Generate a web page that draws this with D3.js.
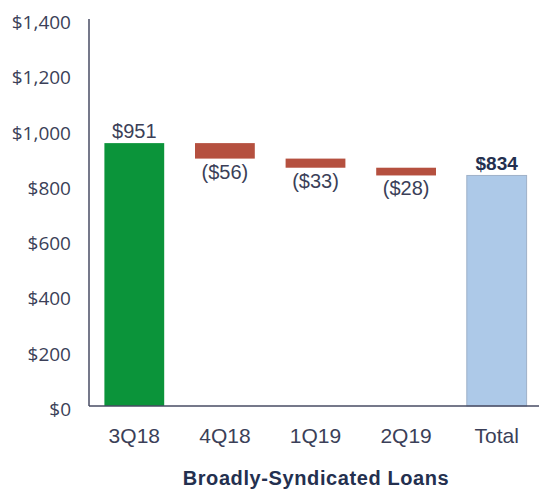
<!DOCTYPE html>
<html>
<head>
<meta charset="utf-8">
<script src="https://cdn.jsdelivr.net/npm/d3@7"></script>
<style>
  body { margin: 0; background: #fff; }
  svg text { font-family: "Liberation Sans", Arial, sans-serif; }
</style>
</head>
<body>
<svg id="chart" width="539" height="490"></svg>
<script>
    // ============ DATA =================
    var categories = ["3Q18", "4Q18", "1Q19", "2Q19", "Total"];
    var values = [951, -56, -33, -28, 834];
    var kinds = ["start", "change", "change", "change", "total"];
    var yTicks = [0, 200, 400, 600, 800, 1000, 1200, 1400];
    var axisTitle = "Broadly-Syndicated Loans";

    var colors = { start: "#0b943a", change: "#b5503f", total: "#adc9e8" };
    var textColor = "#3b3f58";

    // build waterfall pieces
    var running = 0;
    var pieces = categories.map(function (c, i) {
        var v = values[i], from, to;
        if (kinds[i] === "change") {
            from = running; to = running + v; running = to;
        } else {
            from = 0; to = v; running = v;
        }
        return { label: c, value: v, kind: kinds[i], from: from, to: to };
    });

    var fmt = d3.format(",");
    function money(v) {
        return v < 0 ? "($" + fmt(-v) + ")" : "$" + fmt(v);
    }

    var svg = d3.select("#chart");
    var plotLeft = 89, plotRight = 539, plotTop = 19, plotBottom = 406;

    var x = d3.scaleBand()
        .domain(categories)
        .range([plotLeft, plotLeft + 453])
        .paddingInner(0.34)
        .paddingOuter(0.17);

    var y = d3.scaleLinear()
        .domain([0, 1400])
        .range([plotBottom, plotTop]);

    // y tick labels
    var yAxis = svg.append("g")
        .attr("transform", "translate(" + plotLeft + ",0)")
        .call(d3.axisLeft(y).tickValues(yTicks).tickSize(0).tickPadding(18)
            .tickFormat(function (d) { return "$" + fmt(d); }));
    yAxis.select(".domain").remove();
    yAxis.selectAll("text")
        .attr("fill", textColor)
        .attr("dy", "0.5em")
        .style("font-family", "'Open Sans', sans-serif")
        .style("font-size", "19px");

    // bars
    svg.selectAll(".bar")
        .data(pieces)
        .enter().append("rect")
        .attr("class", "bar")
        .attr("x", function (d) { return x(d.label); })
        .attr("y", function (d) { return y(Math.max(d.from, d.to)); })
        .attr("width", x.bandwidth())
        .attr("height", function (d) { return Math.abs(y(d.from) - y(d.to)); })
        .attr("fill", function (d) { return colors[d.kind]; })
        .attr("stroke", function (d) { return d.kind === "total" ? "#9fb1c8" : "none"; })
        .attr("stroke-width", 1);

    // value labels
    svg.selectAll(".val")
        .data(pieces)
        .enter().append("text")
        .attr("class", "val")
        .attr("x", function (d) { return x(d.label) + x.bandwidth() / 2; })
        .attr("y", function (d) {
            if (d.kind === "change") return y(d.to) + 20;
            return y(d.to) - 5;
        })
        .attr("text-anchor", "middle")
        .attr("fill", function (d) { return d.kind === "total" ? "#24304f" : textColor; })
        .style("font-size", function (d) { return d.kind === "total" ? "19px" : "20px"; })
        .style("font-weight", function (d) { return d.kind === "total" ? "bold" : "normal"; })
        .text(function (d) { return money(d.value); });

    // axis lines
    svg.append("line")
        .attr("x1", plotLeft).attr("x2", plotLeft)
        .attr("y1", plotTop).attr("y2", plotBottom)
        .attr("stroke", "#474b63").attr("stroke-width", 1.5);
    svg.append("line")
        .attr("x1", plotLeft).attr("x2", plotRight)
        .attr("y1", plotBottom).attr("y2", plotBottom)
        .attr("stroke", "#474b63").attr("stroke-width", 1.5);

    // category labels
    var xAxis = svg.append("g")
        .attr("transform", "translate(0," + plotBottom + ")")
        .call(d3.axisBottom(x).tickSize(0).tickPadding(22));
    xAxis.select(".domain").remove();
    xAxis.selectAll("text")
        .attr("fill", textColor)
        .style("font-family", "'Liberation Sans', Arial, sans-serif")
        .style("font-size", "21px");

    // axis title
    svg.append("text")
        .attr("x", 316)
        .attr("y", 485)
        .attr("text-anchor", "middle")
        .attr("fill", "#24304f")
        .style("font-size", "20px")
        .style("font-weight", "bold")
        .style("letter-spacing", "0.6px")
        .text(axisTitle);
</script>
</body>
</html>
